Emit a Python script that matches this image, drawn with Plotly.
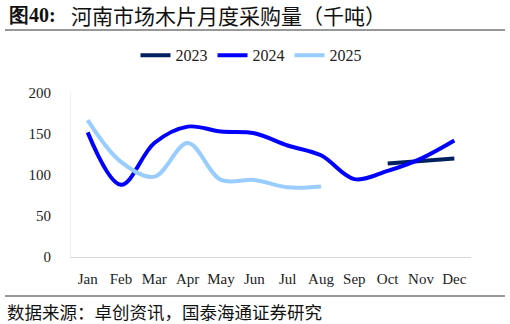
import plotly.graph_objects as go

months = ["Jan", "Feb", "Mar", "Apr", "May", "Jun", "Jul", "Aug", "Sep", "Oct", "Nov", "Dec"]

# 河南市场木片月度采购量（千吨）
y2023 = [None, None, None, None, None, None, None, None, None, 114, 117, 120]
y2024 = [152, 88, 139, 159, 153, 151, 136, 124, 95, 105, 120, 142]
y2025 = [167, 116, 98, 139, 94, 94, 85, 86, None, None, None, None]

series = [
    ("2023", y2023, "#002060"),
    ("2024", y2024, "#0000FF"),
    ("2025", y2025, "#99CCFF"),
]

SERIF = "'Times New Roman', 'Liberation Serif', 'DejaVu Serif', serif"
CJK = "'Noto Sans CJK SC', sans-serif"

fig = go.Figure()
for name, vals, color in series:
    fig.add_trace(go.Scatter(
        x=months, y=vals, name=name, mode="lines",
        line=dict(color=color, width=4, shape="spline", smoothing=1.0),
        connectgaps=False,
    ))

fig.update_layout(
    width=510, height=324,
    margin=dict(l=71, r=39, t=93, b=67),
    paper_bgcolor="white", plot_bgcolor="white",
    font=dict(family=SERIF, size=14, color="#222222"),
    showlegend=True,
    legend=dict(
        orientation="h", x=0.45, xanchor="center", y=1.23, yanchor="middle",
        font=dict(family=SERIF, size=16, color="#222222"),
        itemwidth=30, bgcolor="rgba(0,0,0,0)",
    ),
    xaxis=dict(
        type="category", range=[-0.5, 11.5], showgrid=False, showline=True,
        linecolor="#d9d9d9", linewidth=1, ticks="", ticklabelstandoff=8,
        tickfont=dict(family=SERIF, size=15, color="#222222"),
    ),
    yaxis=dict(
        range=[0, 200], tickvals=[0, 50, 100, 150, 200], showgrid=False,
        showline=True, linecolor="#eeeeee", linewidth=1, ticks="",
        ticklabelstandoff=16, zeroline=False,
        tickfont=dict(family=SERIF, size=15, color="#222222"),
    ),
    shapes=[
        dict(type="line", xref="paper", yref="paper", x0=-0.165, x1=1.085,
             y0=1 + 63 / 164, y1=1 + 63 / 164, line=dict(color="#333333", width=1)),
        dict(type="line", xref="paper", yref="paper", x0=-0.165, x1=1.085,
             y0=-39 / 164, y1=-39 / 164, line=dict(color="#333333", width=1)),
    ],
    annotations=[
        dict(text="<b>图40:</b>", xref="paper", yref="paper",
             x=-0.16, y=1 + 78 / 164, xanchor="left", yanchor="middle", showarrow=False,
             font=dict(family=SERIF, size=20, color="#111111")),
        dict(text="河南市场木片月度采购量（千吨）", xref="paper", yref="paper",
             x=-0.004, y=1 + 78 / 164, xanchor="left", yanchor="middle", showarrow=False,
             font=dict(family=CJK, size=21, color="#111111")),
        dict(text="数据来源：卓创资讯，国泰海通证券研究", xref="paper", yref="paper",
             x=-0.165, y=-54 / 164, xanchor="left", yanchor="middle", showarrow=False,
             font=dict(family=CJK, size=17.5, color="#111111")),
    ],
)

fig.write_html("out.html")
